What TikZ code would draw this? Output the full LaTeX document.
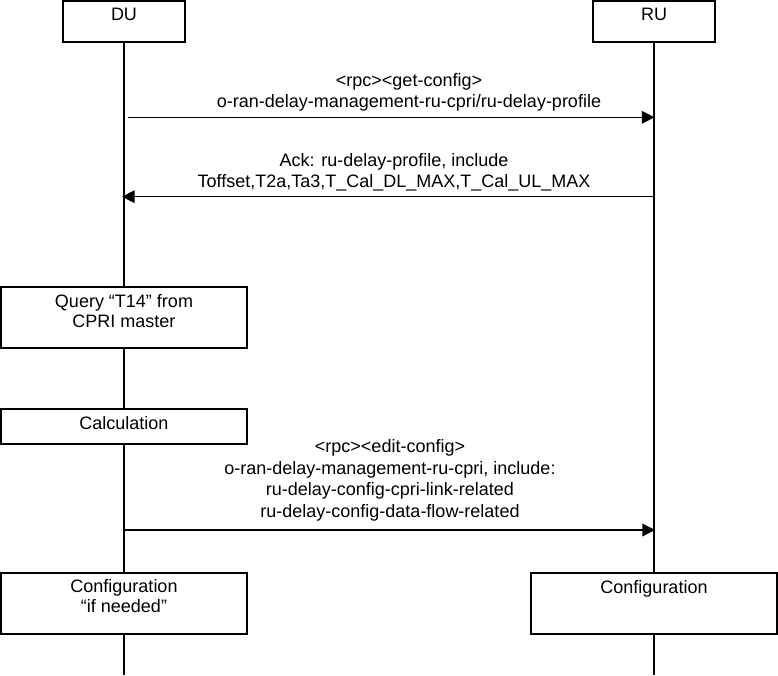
\documentclass[tikz,border=0pt]{standalone}
\usepackage{fontspec}
\setmainfont{Liberation Sans}
\usetikzlibrary{arrows.meta,fit}
\begin{document}
\begin{tikzpicture}[x=0.75pt,y=-0.75pt,
  font=\fontsize{13.5pt}{16.2pt}\selectfont,
  box/.style={draw,line width=1.5pt,fill=white,inner sep=0pt,rectangle},
  boxtext/.style={anchor=base,inner sep=0pt,align=center},
  lifeline/.style={line width=1.5pt},
  msgarrow/.style={line width=1pt,-{Triangle[length=9.5pt,width=9.5pt]}},
  msgtext/.style={anchor=base,inner sep=0pt,align=center}]
\useasboundingbox (0,0) rectangle (778,675);

% entity heads
\node[box,fit={(63,1) (185,42)}] (du) {};
\node[box,fit={(593,1) (715,42)}] (ru) {};
\node[boxtext] (dutext) at (124,20) {DU};
\node[boxtext] (rutext) at (654,20) {RU};

% lifelines
\coordinate (duend) at (124,675);
\coordinate (ruend) at (654,675);
\draw[lifeline] (du.south) -- (duend);
\draw[lifeline] (ru.south) -- (ruend);

% actions on the lifelines (text anchored at the baseline of the last line)
\node[box,fit={(1,287) (247,348)}] (query) {};
\node[boxtext,font=\fontsize{13.5pt}{15pt}\selectfont] (querytext) at (124,327) {Query “T14” from\\CPRI master};
\node[box,fit={(1,409) (247,444)}] (calc) {};
\node[boxtext] (calctext) at (124,429) {Calculation};
\node[box,fit={(1,573) (247,634)}] (cfgdu) {};
\node[boxtext,font=\fontsize{13.5pt}{15pt}\selectfont] (cfgdutext) at (124,612) {Configuration\\“if needed”};
\node[box,fit={(531,573) (777,634)}] (cfgru) {};
\node[boxtext] (cfgrutext) at (654,593) {Configuration};

% message end points on the lifelines
\coordinate (m1s) at (128,117.3);
\coordinate (m1e) at (654.5,117.3);
\coordinate (m2s) at (653,196.7);
\coordinate (m2e) at (122,196.7);
\coordinate (m3s) at (124,530);
\coordinate (m3e) at (655,530);

% messages
\draw[msgarrow] (m1s) -- (m1e);
\node[msgtext] (m1text) at (409,107.7) {<rpc><get-config>\\o-ran-delay-management-ru-cpri/ru-delay-profile};
\draw[msgarrow] (m2s) -- (m2e);
\node[msgtext] (m2text) at (394,187.7) {Ack: ru-delay-profile, include\\Toffset,T2a,Ta3,T\_Cal\_DL\_MAX,T\_Cal\_UL\_MAX};
\draw[msgarrow] (m3s) -- (m3e);
\node[msgtext] (m3text) at (390,517.3) {<rpc><edit-config>\\o-ran-delay-management-ru-cpri, include:\\ru-delay-config-cpri-link-related\\ru-delay-config-data-flow-related};
\end{tikzpicture}
\end{document}
